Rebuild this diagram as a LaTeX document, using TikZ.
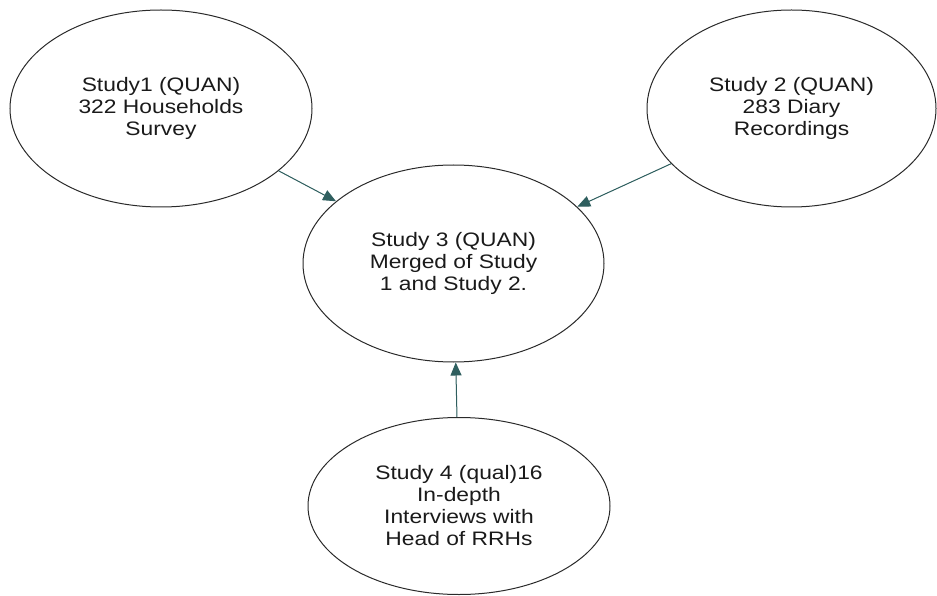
\documentclass[tikz,border=0pt]{standalone}
\usepackage{fontspec}
\setmainfont{Liberation Sans}[FakeStretch=1.17]
\usetikzlibrary{shapes.geometric,arrows.meta}
\definecolor{linkteal}{HTML}{2F5F5F}
\definecolor{rimgray}{HTML}{2A2A2A}
\definecolor{inkdark}{HTML}{1A1A1A}
\begin{document}
\begin{tikzpicture}[x=1pt,y=-1pt,
  studybubble/.style={ellipse, draw=rimgray, line width=1pt, inner sep=0pt,
    align=center, text=inkdark,
    font=\fontsize{19.5}{22}\selectfont},
  feeds/.style={draw=linkteal, line width=1pt,
    -{Triangle[length=13pt,width=11pt]}, fill=linkteal}]
  \useasboundingbox (0,0) rectangle (937,596);
  \node[studybubble, minimum width=302pt, minimum height=197pt] (s1) at (161,108.5)
    {Study1 (QUAN)\\322 Households\\Survey};
  \node[studybubble, minimum width=289pt, minimum height=197pt] (s2) at (791.5,108.5)
    {Study 2 (QUAN)\\283 Diary\\Recordings};
  \node[studybubble, minimum width=301pt, minimum height=197pt] (s3) at (453.5,263.5)
    {Study 3 (QUAN)\\Merged of Study\\1 and Study 2.};
  \node[studybubble, minimum width=302pt, minimum height=177pt] (s4) at (459,506)
    {Study 4 (qual)16\\In-depth\\Interviews with\\Head of RRHs};
  \draw[feeds] (s1) -- (s3);
  \draw[feeds] (s2) -- (s3);
  \draw[feeds] (s4) -- (s3);
\end{tikzpicture}
\end{document}
